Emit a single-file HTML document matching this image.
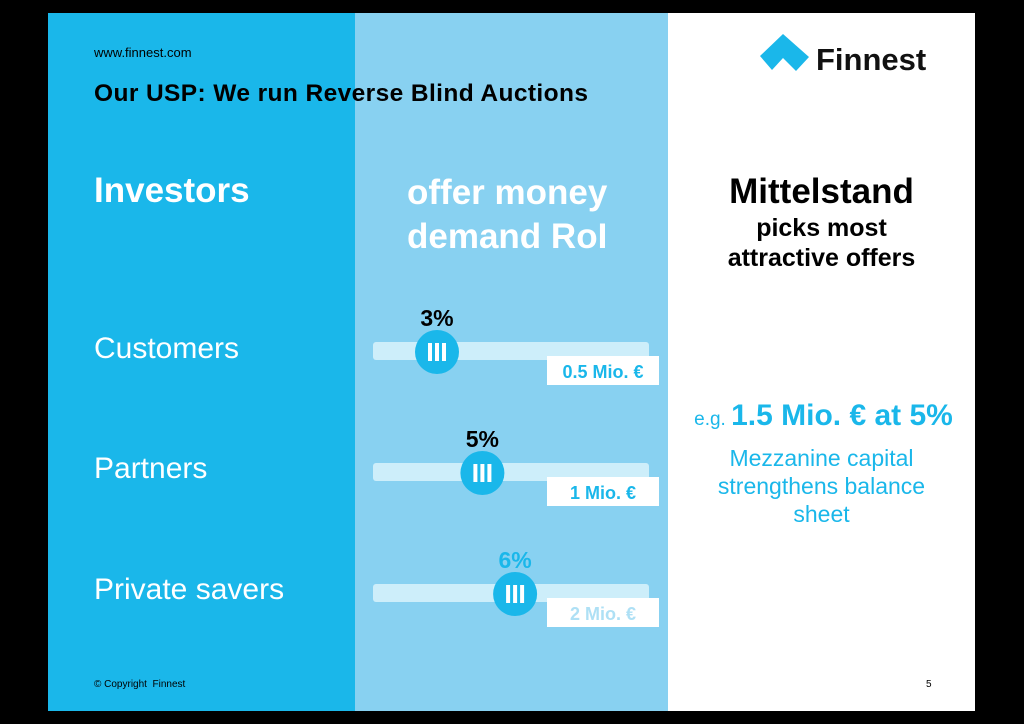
<!DOCTYPE html>
<html><head><meta charset="utf-8"><style>
body{margin:0;width:1024px;height:724px;background:#000;overflow:hidden;font-family:"Liberation Sans",sans-serif}
.slide{position:absolute;left:48px;top:13px;width:927px;height:698px;background:#fff;overflow:hidden}
.p{position:absolute}
</style></head><body>
<div class="slide">
<div class="p" style="left:0;top:0;width:307px;height:698px;background:#1ab7ea"></div>
<div class="p" style="left:307px;top:0;width:313px;height:698px;background:#88d1f1"></div>
<div class="p" style="left:46px;top:32px;font-size:13px;color:#000">www.finnest.com</div>
<div class="p" style="left:46px;top:67px;font-size:24.5px;letter-spacing:0.4px;font-weight:bold;color:#000;white-space:nowrap">Our USP: We run Reverse Blind Auctions</div>
<svg class="p" style="left:700px;top:2px" width="220" height="70">
<polygon points="12,41 35,19 61,42 48,56 35,43 24,55" fill="#1ab7ea"/>
<text x="68" y="55" font-family="Liberation Sans" font-weight="bold" font-size="31" fill="#111">Finnest</text>
</svg>
<div class="p" style="left:46px;top:158px;font-size:35px;font-weight:bold;color:#fff">Investors</div>
<div class="p" style="left:359px;top:158px;font-size:35px;font-weight:bold;color:#fff;line-height:44px">offer money<br>demand RoI</div>
<div class="p" style="left:620px;top:158px;width:307px;text-align:center;color:#000;font-weight:bold">
<div style="font-size:35px;line-height:42px">Mittelstand</div>
<div style="font-size:25px;line-height:30px">picks most<br>attractive offers</div></div>
<div class="p" style="left:46px;top:319px;font-size:30px;color:#fff">Customers</div>
<div class="p" style="left:46px;top:439px;font-size:30px;color:#fff">Partners</div>
<div class="p" style="left:46px;top:560px;font-size:30px;color:#fff">Private savers</div>
<svg class="p" id="sl" style="left:0;top:0" width="927" height="698"></svg>
<div class="p" style="left:620px;top:386px;width:307px;text-align:center;color:#1ab7ea">
<div style="white-space:nowrap;margin-left:-8px;width:327px"><span style="font-size:19px;color:#1ab7ea">e.g. </span><span style="font-size:30px;font-weight:bold">1.5 Mio. € at 5%</span></div>
<div style="font-size:23px;line-height:28px;margin-top:11px">Mezzanine capital<br>strengthens balance<br>sheet</div></div>
<div class="p" style="left:46px;top:666px;font-size:10px;color:#000">© Copyright&nbsp; Finnest</div>
<div class="p" style="left:878px;top:666px;font-size:10px;color:#000">5</div>
</div>
<script>
const rates=[3,5,6];
const rateLabels=["3%","5%","6%"];
const amounts=["0.5 Mio. €","1 Mio. €","2 Mio. €"];
const labelColors=["#000","#000","#1ab7ea"];
const amountColors=["#1ab7ea","#1ab7ea","#aee0f5"];
const svg=document.getElementById('sl');const NS='http://www.w3.org/2000/svg';
const xs=r=>389+(r-3)*22.7+(r>5?(r-5)*10:0);
function mk(t,a){const e=document.createElementNS(NS,t);for(const k in a)e.setAttribute(k,a[k]);svg.appendChild(e);return e;}
rates.forEach((r,i)=>{
 const cy=339+i*121,cx=xs(r);
 let e=mk('rect',{x:325,y:cy-10,width:276,height:18,rx:3,fill:'#cdeefa'});
 
 
 e=mk('rect',{x:499,y:cy+4,width:112,height:29,fill:'#fff'});
 
 
 e=mk('text',{x:555,y:cy+26,'text-anchor':'middle','font-size':18,'font-weight':'bold',fill:amountColors[i],'font-family':'Liberation Sans'});
 e.textContent=amounts[i];
 
 
 e=mk('circle',{cx:cx,cy:cy,r:22,fill:'#1ab7ea'});
 
 
 [-7,0,7].forEach(d=>{const b=mk('rect',{x:cx+d-2,y:cy-9,width:4,height:18,fill:'#fff'});
  
  });
 e=mk('text',{x:cx,y:cy-26,'text-anchor':'middle','font-size':23,'font-weight':'bold',fill:labelColors[i],'font-family':'Liberation Sans'});
 e.textContent=rateLabels[i];
 
 
});
</script>
</body></html>
